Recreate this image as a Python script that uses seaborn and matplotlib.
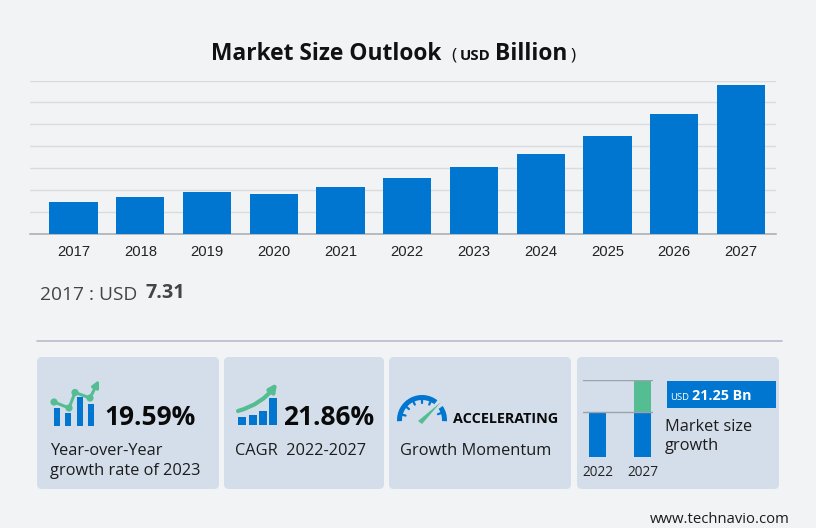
import numpy as np
import pandas as pd
import matplotlib
matplotlib.use("Agg")
import matplotlib.pyplot as plt
from matplotlib.patches import FancyBboxPatch, Rectangle, Wedge, Polygon, Circle, FancyArrowPatch
import seaborn as sns

years = ["2017","2018","2019","2020","2021","2022","2023","2024","2025","2026","2027"]
values = [7.31,8.3,9.5,9.1,10.6,12.7,15.15,18.3,22.3,27.3,33.95]
mini_years = ["2022","2027"]
mini_base = [12.7,12.7]
mini_growth = [0,9.25]
yoy = "19.59%"
cagr = "21.86%"
increment = "21.25 Bn"

BG="#f2f3f5"; CARD="#d4deea"; BLUE="#0076d1"; GREEN="#54bd92"; GRID="#d9dbe0"; INK="#111111"
W,H=816,528
sns.set_theme(style="white")
plt.rcParams['font.family']=['Open Sans','DejaVu Sans']
fig=plt.figure(figsize=(W/100,H/100),dpi=100,facecolor=BG)
def axpx(l,t,r,b,**k):
    return fig.add_axes([l/W,1-b/H,(r-l)/W,(b-t)/H],**k)

# overlay
ov=axpx(0,0,W,H); ov.set_xlim(0,W); ov.set_ylim(H,0); ov.axis("off"); ov.set_facecolor("none")
for l,t,r,b in [(37,357,219,489),(224,357,384,489),(389,357,571,489),(577,357,779,489)]:
    ov.add_patch(FancyBboxPatch((l+5,t+5),r-l-10,b-t-10,boxstyle="round,pad=5,rounding_size=5",fc=CARD,ec="none"))
ov.plot([37,782],[340.5,340.5],color="#b9bcca",lw=1.2)

# main chart
ax=axpx(30,80.5,776,233.5); ax.set_facecolor("none")
df=pd.DataFrame({"year":years,"value":values})
sns.barplot(data=df,x="year",y="value",color=BLUE,saturation=1,width=0.72,ax=ax,zorder=3,linewidth=0,edgecolor="none")
ax.set_xlim(-0.652,10.524); ax.set_ylim(0,35)
ax.set_yticks(range(0,36,5)); ax.set_yticklabels([])
ax.grid(axis="y",color=GRID,lw=1); ax.set_axisbelow(True)
ax.set_xlabel(""); ax.set_ylabel("")
sns.despine(ax=ax,left=True,top=True,right=True,bottom=False)
ax.spines["bottom"].set_color("#a9abb0"); ax.spines["bottom"].set_linewidth(1.1)
ax.tick_params(axis="x",length=0,pad=8.5,labelsize=10.6,labelcolor="#222222")
ax.tick_params(axis="y",length=0)
for t in ax.get_xticklabels(): t.set_family("Liberation Sans")

# titles
def T(x,y,s,size,weight="normal",color=INK,ha="left"):
    return ov.text(x,y,s,fontsize=size,fontweight=weight,color=color,ha=ha,va="baseline")
T(211,60,"Market Size Outlook",16.4,"bold")
T(451,60,"(",12.5,"normal")
T(460,60,"USD",10.8,"bold")
T(495,60,"Billion",16.4,"bold")
T(570,60,")",12.5,"normal")
T(40,299.5,"2017 : USD",13.8,"normal","#444444")
T(145,298.5,"7.31",14.2,"bold","#444444")

# KPI numbers
T(104,425,yoy,19.0,"bold","#0a0a0a")
T(283,425,cagr,19.0,"bold","#0a0a0a")
T(453,423,"ACCELERATING",10.4,"bold","#0a0a0a")
T(50,455,"Year-over-Year",11.75,"normal","#1c1c1c")
T(50,475,"growth rate of 2023",11.75,"normal","#1c1c1c")
T(235,455,"CAGR  2022-2027",11.75,"normal","#1c1c1c")
T(400,455,"Growth Momentum",11.75,"normal","#1c1c1c")
T(665,431,"Market size",11.75,"normal","#1c1c1c")
T(665,450,"growth",11.75,"normal","#1c1c1c")
T(650,523,"www.technavio.com",10.7,"normal","#1c1c1c")

# badge
ov.add_patch(Rectangle((667,381),109,27,fc=BLUE,ec="none"))
T(670,400,"USD",6.8,"normal","white")
T(692,400,increment,10.3,"bold","white")

# icon 1
for l,top in zip([54,65,77,88],[407.7,413,397,404]):
    ov.add_patch(Rectangle((l,top),6.3,426-top,fc=BLUE,ec="none"))
pts=np.array([[54,402],[69,408],[75,392.5],[90,398]])
ov.plot(pts[:,0],pts[:,1],color=GREEN,lw=2.2,solid_capstyle="round")
for p in pts: ov.add_patch(Circle(p,3.6,fc=GREEN,ec="none"))
ov.add_patch(FancyArrowPatch((90,398),(99,380),arrowstyle="-|>",mutation_scale=10,color=GREEN,lw=2.2,shrinkA=0,shrinkB=0))
# icon 2
for l,top in zip([238,249,259,269],[417,414.7,410.7,398]):
    ov.add_patch(Rectangle((l,top),7.7,425-top,fc=BLUE,ec="none"))
ov.add_patch(FancyArrowPatch((238,411),(277,383),connectionstyle="arc3,rad=0.18",arrowstyle="-|>",mutation_scale=11,color=GREEN,lw=3,shrinkA=0,shrinkB=0))
# icon 3
ov.add_patch(Wedge((422,420),25,177,308,width=5,fc=BLUE,ec="none"))
ov.add_patch(Wedge((422,420),25,326,363,width=5,fc=BLUE,ec="none"))
for a in np.radians([195,220,245,270,295,340]):
    ov.plot([422+17*np.cos(a),422+21*np.cos(a)],[420+17*np.sin(a),420+21*np.sin(a)],color=BLUE,lw=1.6)
ov.add_patch(Polygon([[418,421],[422,424],[441,402]],fc=GREEN,ec="none"))

# mini chart
m=axpx(583,380,653,456.7); m.set_facecolor("none")
mdf=pd.DataFrame({"year":mini_years,"base":mini_base,"growth":mini_growth})
sns.barplot(data=mdf,x="year",y="base",color=BLUE,saturation=1,width=0.377,ax=m,zorder=3,linewidth=0,edgecolor="none")
m.bar(mdf["year"],mdf["growth"],bottom=mdf["base"],color=GREEN,width=0.377,zorder=3,linewidth=0)
m.set_xlim(-0.327,1.23); m.set_ylim(0,21.95)
for s in m.spines.values(): s.set_visible(False)
m.axhline(12.7,color="#9aa3ad",lw=1,zorder=4); m.axhline(21.9,color="#9aa3ad",lw=1,zorder=4)
m.set_xlabel(""); m.set_ylabel(""); m.set_yticks([])
m.tick_params(axis="x",length=0,pad=6,labelsize=9.8,labelcolor="#222222")

fig.savefig("out.png",dpi=100,facecolor=BG)
